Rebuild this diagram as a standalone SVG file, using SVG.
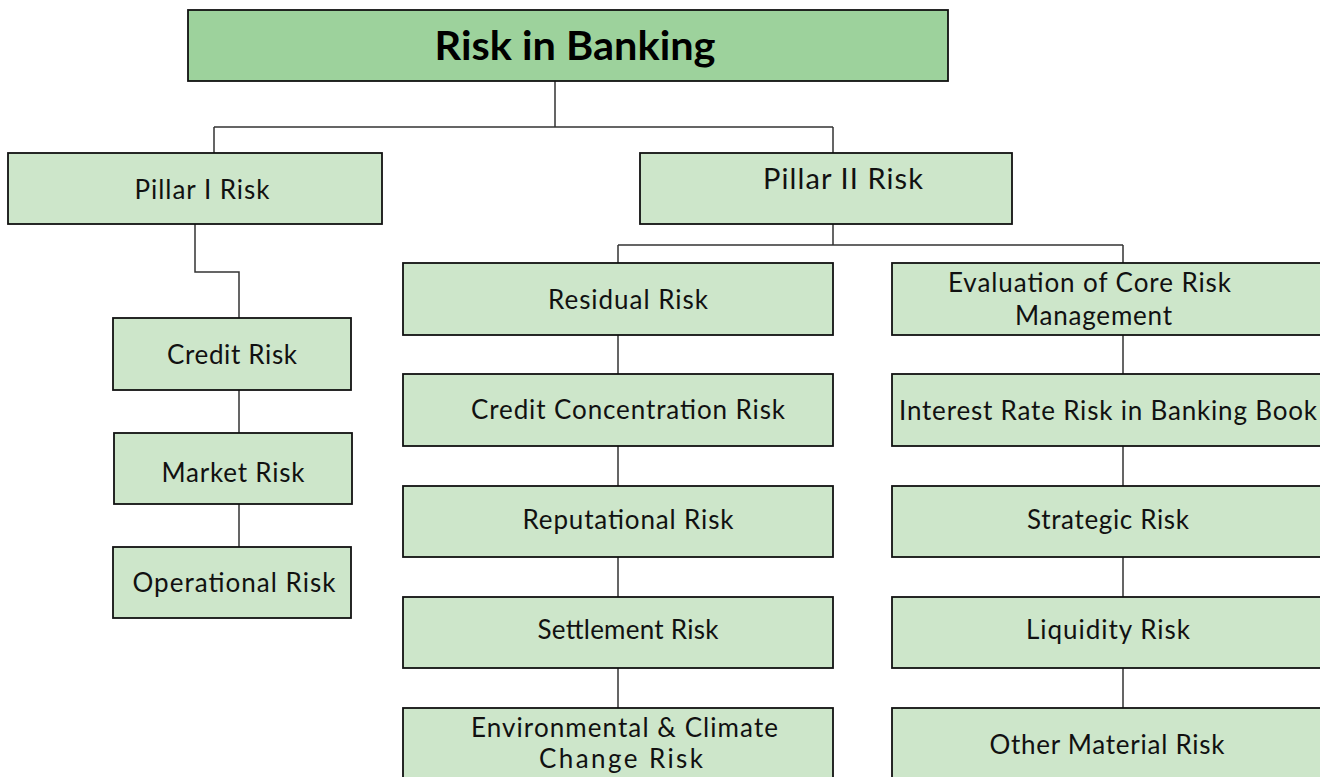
<svg xmlns="http://www.w3.org/2000/svg" width="1320" height="777" viewBox="0 0 1320 777">
<style>
.top{fill:#9DD29C;stroke:#111;stroke-width:1.8}
.box{fill:#CDE6CA;stroke:#111;stroke-width:1.8}
.t{font-family:Lato,"Open Sans",sans-serif;font-size:26px;fill:#111;text-anchor:middle}
.title{font-family:Lato,"Open Sans",sans-serif;font-size:40px;font-weight:bold;fill:#000;text-anchor:middle}
.big{font-size:29px}
.c{fill:none;stroke:#333;stroke-width:1.5}
</style>
<rect width="1320" height="777" fill="#fff"/>
<g id="connectors">
<path class="c" d="M555 81V127M214 127H833M214 127V153M833 127V153"/>
<path class="c" d="M195 224V272H239V318M239 390V433M239 504V547"/>
<path class="c" d="M833 224V245M618 245H1123M618 245V263M1123 245V263"/>
<path class="c" d="M618 335V374M618 446V486M618 557V597M618 668V708"/>
<path class="c" d="M1123 335V374M1123 446V486M1123 557V597M1123 668V708"/>
</g>
<g id="root"><rect class="top" x="188" y="10" width="760" height="71"/><text class="title" x="575" y="60" textLength="281" lengthAdjust="spacingAndGlyphs">Risk in Banking</text></g>
<g id="pillar1"><rect class="box" x="8" y="153" width="374" height="71"/><text class="t" x="202" y="199" textLength="135">Pillar I Risk</text></g>
<g id="pillar2"><rect class="box" x="640" y="153" width="372" height="71"/><text class="t big" x="843" y="189" textLength="160">Pillar II Risk</text></g>
<g id="credit"><rect class="box" x="113" y="318" width="238" height="72"/><text class="t" x="232" y="364" textLength="130">Credit Risk</text></g>
<g id="market"><rect class="box" x="114" y="433" width="238" height="71"/><text class="t" x="233" y="482" textLength="143">Market Risk</text></g>
<g id="operational"><rect class="box" x="113" y="547" width="238" height="71"/><text class="t" x="234" y="592" textLength="203">Operational Risk</text></g>
<g id="residual"><rect class="box" x="403" y="263" width="430" height="72"/><text class="t" x="628" y="309" textLength="160">Residual Risk</text></g>
<g id="concentration"><rect class="box" x="403" y="374" width="430" height="72"/><text class="t" x="628" y="419" textLength="314">Credit Concentration Risk</text></g>
<g id="reputational"><rect class="box" x="403" y="486" width="430" height="71"/><text class="t" x="628" y="529" textLength="211">Reputational Risk</text></g>
<g id="settlement"><rect class="box" x="403" y="597" width="430" height="71"/><text class="t" x="628" y="639" textLength="181">Settlement Risk</text></g>
<g id="environmental"><rect class="box" x="403" y="708" width="430" height="72"/><text class="t" x="624.5" y="737" textLength="307">Environmental &amp; Climate</text><text class="t" x="621" y="768" textLength="164">Change Risk</text></g>
<g id="evaluation"><rect class="box" x="892" y="263" width="430" height="72"/><text class="t" x="1089.5" y="292" textLength="283">Evaluation of Core Risk</text><text class="t" x="1093.5" y="325" textLength="157">Management</text></g>
<g id="interest"><rect class="box" x="892" y="374" width="430" height="72"/><text class="t" x="1108" y="420" textLength="418">Interest Rate Risk in Banking Book</text></g>
<g id="strategic"><rect class="box" x="892" y="486" width="430" height="71"/><text class="t" x="1108" y="529" textLength="162">Strategic Risk</text></g>
<g id="liquidity"><rect class="box" x="892" y="597" width="430" height="71"/><text class="t" x="1108" y="639" textLength="164">Liquidity Risk</text></g>
<g id="other"><rect class="box" x="892" y="708" width="430" height="72"/><text class="t" x="1107" y="754" textLength="235">Other Material Risk</text></g>
</svg>
